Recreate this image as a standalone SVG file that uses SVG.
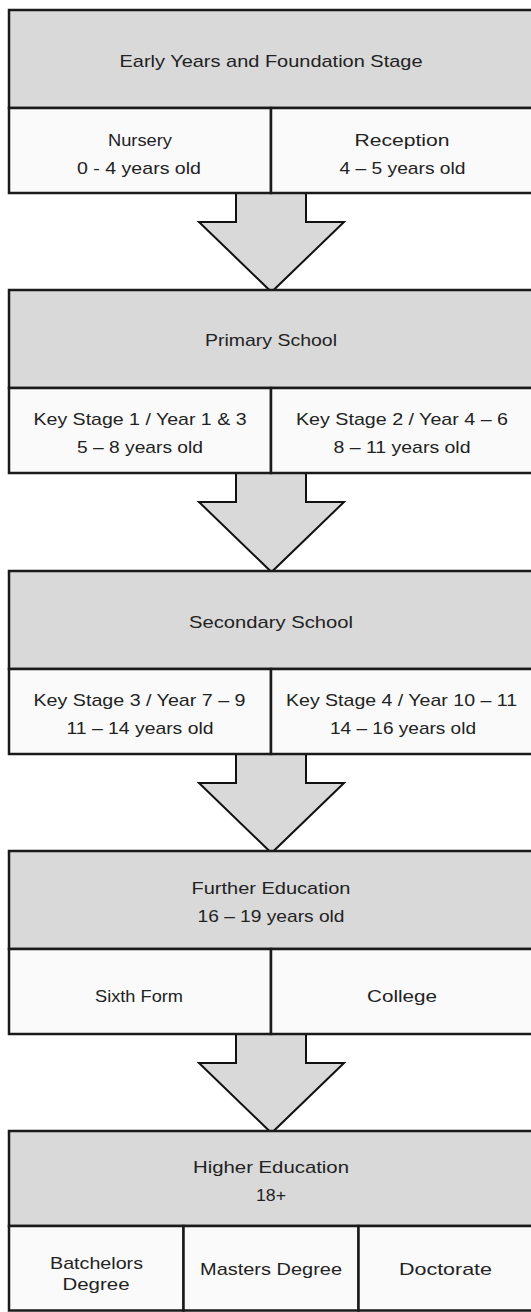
<svg xmlns="http://www.w3.org/2000/svg" width="531" height="1312" viewBox="0 0 531 1312">
<style>
.hd{fill:#d9d9d9;stroke:#1a1a1a;stroke-width:2.5}
.sb{fill:#fafafa;stroke:#1a1a1a;stroke-width:2.5}
.ar{fill:#d9d9d9;stroke:#111;stroke-width:2;stroke-linejoin:miter}
text{font-family:"Liberation Sans",Arial,sans-serif;font-size:17px;fill:#222;text-anchor:middle}
</style>
<rect width="531" height="1312" fill="#fff"/>
<g id="connectors">
<path class="ar" d="M236,193 V222 H199 L271.5,292 L344,222 H306 V193"/>
<path class="ar" d="M236,473 V502 H199 L271.5,572 L344,502 H306 V473"/>
<path class="ar" d="M236,754 V783 H199 L271.5,853 L344,783 H306 V754"/>
<path class="ar" d="M236,1034 V1063 H199 L271.5,1133 L344,1063 H306 V1034"/>
</g>
<g id="early-years">
<rect class="hd" x="9" y="10" width="524" height="98"/>
<rect class="sb" x="9" y="108" width="262" height="85"/>
<rect class="sb" x="271" y="108" width="262" height="85"/>
<text x="271" y="67" textLength="303" lengthAdjust="spacingAndGlyphs">Early Years and Foundation Stage</text>
<text x="140" y="146" textLength="64" lengthAdjust="spacingAndGlyphs">Nursery</text>
<text x="139" y="174" textLength="124" lengthAdjust="spacingAndGlyphs">0 - 4 years old</text>
<text x="402" y="146" textLength="95" lengthAdjust="spacingAndGlyphs">Reception</text>
<text x="402.5" y="174" textLength="126" lengthAdjust="spacingAndGlyphs">4 – 5 years old</text>
</g>
<g id="primary">
<rect class="hd" x="9" y="290" width="524" height="98"/>
<rect class="sb" x="9" y="388" width="262" height="85"/>
<rect class="sb" x="271" y="388" width="262" height="85"/>
<text x="271" y="346" textLength="132" lengthAdjust="spacingAndGlyphs">Primary School</text>
<text x="140" y="425" textLength="213" lengthAdjust="spacingAndGlyphs">Key Stage 1 / Year 1 &amp; 3</text>
<text x="140" y="453" textLength="126" lengthAdjust="spacingAndGlyphs">5 – 8 years old</text>
<text x="402" y="425" textLength="212" lengthAdjust="spacingAndGlyphs">Key Stage 2 / Year 4 – 6</text>
<text x="402" y="453" textLength="137" lengthAdjust="spacingAndGlyphs">8 – 11 years old</text>
</g>
<g id="secondary">
<rect class="hd" x="9" y="571" width="524" height="98"/>
<rect class="sb" x="9" y="669" width="262" height="85"/>
<rect class="sb" x="271" y="669" width="262" height="85"/>
<text x="271" y="628" textLength="164" lengthAdjust="spacingAndGlyphs">Secondary School</text>
<text x="139.5" y="706" textLength="212" lengthAdjust="spacingAndGlyphs">Key Stage 3 / Year 7 – 9</text>
<text x="140" y="734" textLength="147" lengthAdjust="spacingAndGlyphs">11 – 14 years old</text>
<text x="401.5" y="706" textLength="231" lengthAdjust="spacingAndGlyphs">Key Stage 4 / Year 10 – 11</text>
<text x="403" y="734" textLength="146" lengthAdjust="spacingAndGlyphs">14 – 16 years old</text>
</g>
<g id="further">
<rect class="hd" x="9" y="851" width="524" height="98"/>
<rect class="sb" x="9" y="949" width="262" height="85"/>
<rect class="sb" x="271" y="949" width="262" height="85"/>
<text x="271" y="894" textLength="159" lengthAdjust="spacingAndGlyphs">Further Education</text>
<text x="271" y="922" textLength="147" lengthAdjust="spacingAndGlyphs">16 – 19 years old</text>
<text x="139" y="1002" textLength="88" lengthAdjust="spacingAndGlyphs">Sixth Form</text>
<text x="402" y="1002" textLength="70" lengthAdjust="spacingAndGlyphs">College</text>
</g>
<g id="higher">
<rect class="hd" x="9" y="1131" width="524" height="95"/>
<rect class="sb" x="9" y="1226" width="174.5" height="84.5"/>
<rect class="sb" x="183.5" y="1226" width="175" height="84.5"/>
<rect class="sb" x="358.5" y="1226" width="174.5" height="84.5"/>
<text x="271" y="1173" textLength="156" lengthAdjust="spacingAndGlyphs">Higher Education</text>
<text x="271" y="1201" textLength="30" lengthAdjust="spacingAndGlyphs">18+</text>
<text x="96.5" y="1268.5" textLength="93" lengthAdjust="spacingAndGlyphs">Batchelors</text>
<text x="96" y="1290" textLength="67" lengthAdjust="spacingAndGlyphs">Degree</text>
<text x="271" y="1275" textLength="142" lengthAdjust="spacingAndGlyphs">Masters Degree</text>
<text x="445.5" y="1275" textLength="93" lengthAdjust="spacingAndGlyphs">Doctorate</text>
</g>
</svg>
